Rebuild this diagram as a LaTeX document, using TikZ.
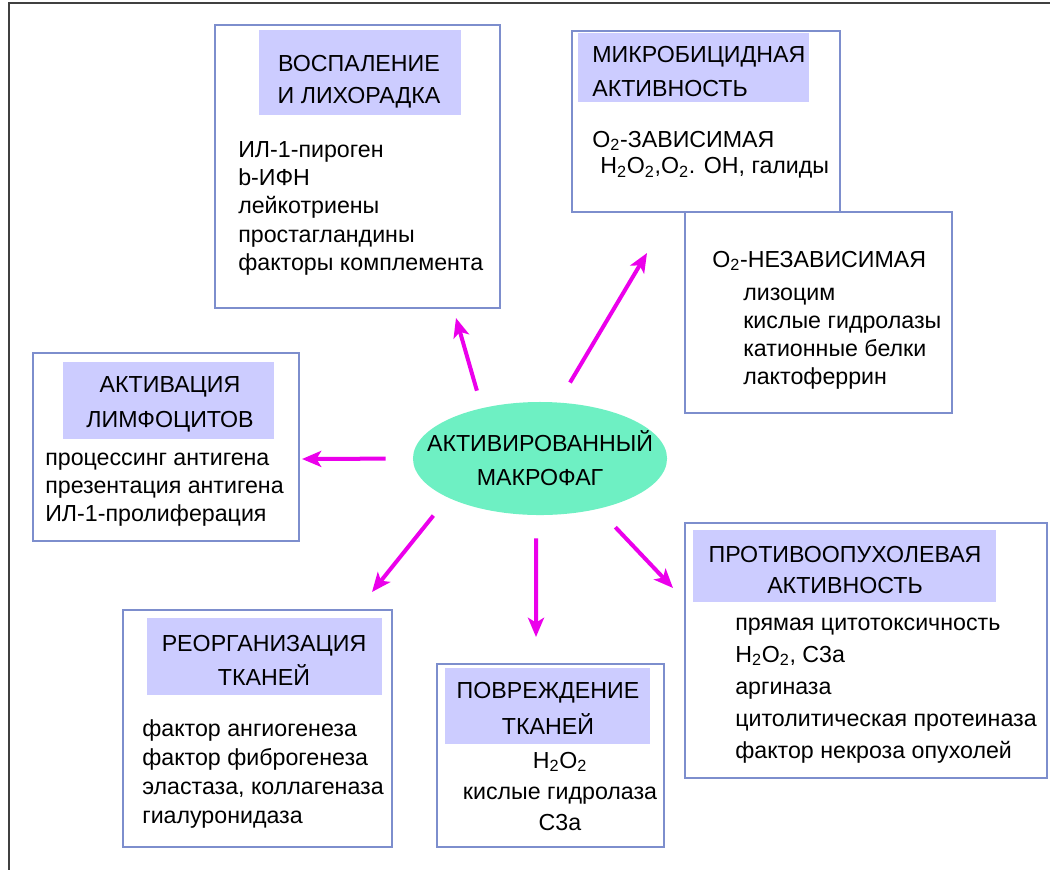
\documentclass[tikz,border=0pt]{standalone}
\usepackage{fontspec}
\setmainfont{Liberation Sans}
\usetikzlibrary{arrows.meta, shapes.geometric, fit}

\definecolor{boxline}{RGB}{125,142,205}
\definecolor{headfill}{RGB}{204,204,255}
\definecolor{cellfill}{RGB}{110,240,195}
\definecolor{arrowpink}{RGB}{235,0,235}
\newcommand{\capstrut}{\rule{0pt}{12.5pt}}

\begin{document}
\begin{tikzpicture}[
    x=0.025cm, y=-0.025cm,
    >={Stealth[length=4.8mm,width=4mm,inset=1.2mm]},
    leading/.style={font=\fontsize{16.5}{#1}\selectfont},
    panel/.style={draw=boxline, line width=0.8pt, fill=white, inner sep=0pt},
    headbox/.style={fill=headfill, inner sep=0pt},
    headtxt/.style={anchor=north, align=center, inner sep=0pt},
    bodytxt/.style={anchor=north west, align=left, inner sep=0pt},
    cell/.style={ellipse, fill=cellfill, inner ysep=0pt, inner xsep=-0.6cm,
                 align=center, minimum width=6.35cm, minimum height=2.825cm,
                 leading=24.2pt},
    link/.style={->, draw=arrowpink, line width=1mm},
]
\useasboundingbox (0,0) rectangle (1050,870);
\draw[black!75, line width=2pt] (1050,3) -- (9,3) -- (9,870);

% inflammation
\node[panel, fit={(215,25) (500,308)}]   (vosp)      {};
\node[headbox, fit={(259,30) (461,115)}] (vosphead)  {};
\node[headtxt, leading=23.1pt] (vosptitle) at (359,53.4)
     {\capstrut ВОСПАЛЕНИЕ\\И ЛИХОРАДКА};
\node[bodytxt, leading=20.1pt] (vosplist) at (238,139.4)
     {\capstrut ИЛ-1-пироген\\b-ИФН\\лейкотриены\\простагландины\\факторы комплемента};

% microbicidal
\node[panel, fit={(572,31) (840,212)}]   (mikro)     {};
\node[headbox, fit={(578,33) (809,102)}] (mikrohead) {};
\node[bodytxt, leading=24.2pt] (mikrotitle) at (592,44.4)
     {\capstrut МИКРОБИЦИДНАЯ\\АКТИВНОСТЬ};
\node[bodytxt, leading=18.9pt] (zavis) at (592,129.4)
     {\capstrut O\textsubscript{2}-ЗАВИСИМАЯ\\
      \hspace*{0.2cm}H\textsubscript{2}O\textsubscript{2},O\textsubscript{2}. OH, галиды};

\node[panel, fit={(685,212) (952,413)}]  (nezavis)   {};
\node[bodytxt, leading=19.9pt] (nezavislist) at (712,249.4)
     {\capstrut O\textsubscript{2}-НЕЗАВИСИМАЯ\\[3.6pt]
      \hspace*{0.775cm}лизоцим\\
      \hspace*{0.775cm}кислые гидролазы\\
      \hspace*{0.775cm}катионные белки\\
      \hspace*{0.775cm}лактоферрин};

% lymphocytes
\node[panel, fit={(33,353) (299,541)}]   (limf)      {};
\node[headbox, fit={(63,362) (274,439)}] (limfhead)  {};
\node[headtxt, leading=24.9pt] (limftitle) at (170,374.4)
     {\capstrut АКТИВАЦИЯ\\ЛИМФОЦИТОВ};
\node[bodytxt, leading=19.9pt] (limflist) at (45,447.4)
     {\capstrut процессинг антигена\\презентация антигена\\ИЛ-1-пролиферация};

% tissue reorganisation
\node[panel, fit={(123,610) (392,847)}]  (reorg)     {};
\node[headbox, fit={(147,618) (382,695)}] (reorghead) {};
\node[headtxt, leading=24.2pt] (reorgtitle) at (264,633.4)
     {\capstrut РЕОРГАНИЗАЦИЯ\\ТКАНЕЙ};
\node[bodytxt, leading=20.6pt] (reorglist) at (142,718.4)
     {\capstrut фактор ангиогенеза\\фактор фиброгенеза\\эластаза, коллагеназа\\гиалуронидаза};

% tissue damage
\node[panel, fit={(437,664) (664,847)}]  (povr)      {};
\node[headbox, fit={(445,668) (650,744)}] (povrhead) {};
\node[headtxt, leading=25.6pt] (povrtitle) at (548,680.4)
     {\capstrut ПОВРЕЖДЕНИЕ\\ТКАНЕЙ};
\node[headtxt, leading=22pt] (povrlist) at (560,750.4)
     {\capstrut H\textsubscript{2}O\textsubscript{2}\\кислые гидролаза\\C3a};

% antitumour
\node[panel, fit={(685,523) (1047,778)}] (opuch)     {};
\node[headbox, fit={(693,530) (996,602)}] (opuchhead) {};
\node[headtxt, leading=22pt] (opuchtitle) at (845,544.4)
     {\capstrut ПРОТИВООПУХОЛЕВАЯ\\АКТИВНОСТЬ};
\node[bodytxt, leading=22.8pt] (opuchlist) at (735,612.4)
     {\capstrut прямая цитотоксичность\\H\textsubscript{2}O\textsubscript{2}, C3a\\аргиназа\\цитолитическая протеиназа\\фактор некроза опухолей};

% centre
\node[cell] (mac) at (540,458.5) {АКТИВИРОВАННЫЙ\\МАКРОФАГ};

\coordinate (tipvosp)  at (456,318);
\coordinate (tipmikro) at (647,253);
\coordinate (tiplimf)  at (302,459);
\coordinate (tipreorg) at (372,592);
\coordinate (tippovr)  at (536,637);
\coordinate (tipopuch) at (673,588);

\draw[link, shorten <=0.45cm]  (mac.139) -- (tipvosp);
\draw[link, shorten <=0.575cm] (mac.72)  -- (tipmikro);
\draw[link, shorten <=0.675cm] (mac.180) -- (tiplimf);
\draw[link, shorten <=0.575cm] (mac.203) -- (tipreorg);
\draw[link, shorten <=0.575cm] (mac.266) -- (tippovr);
\draw[link, shorten <=0.625cm] (mac.319) -- (tipopuch);

\end{tikzpicture}
\end{document}
